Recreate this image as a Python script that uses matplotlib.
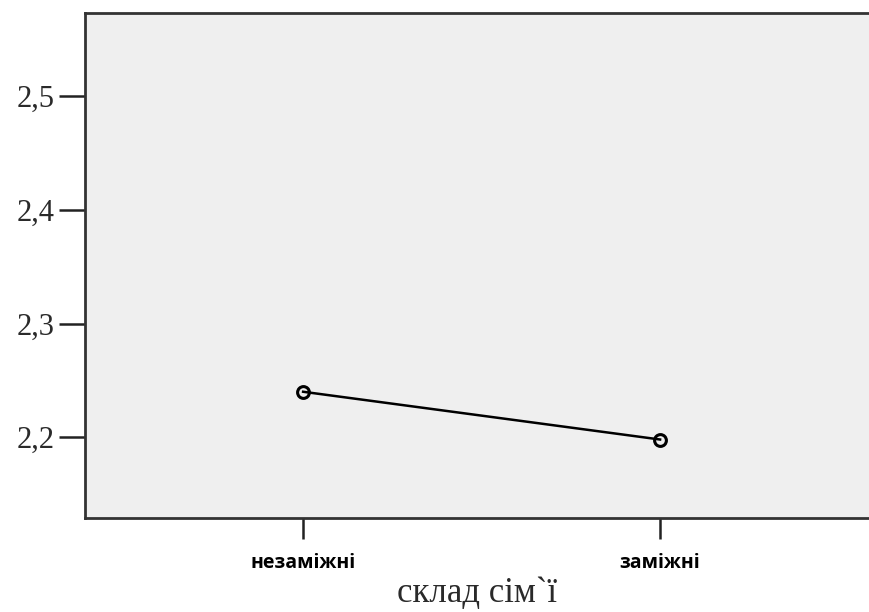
import matplotlib.pyplot as plt

# середні значення за складом сім'ї
categories = ['незаміжні', 'заміжні']
means = [2.240, 2.198]
y_ticks = [2.2, 2.3, 2.4, 2.5]
y_tick_labels = ['2,2', '2,3', '2,4', '2,5']

fig = plt.figure(figsize=(8.7, 6.12), dpi=100)
ax = fig.add_axes([85/870, 1 - 518/612, 1 - 85/870, (518 - 13)/612])
ax.set_facecolor('#efefef')

x = list(range(len(categories)))
ax.plot(x, means, color='black', linewidth=1.8, marker='o', markersize=8.5,
        markerfacecolor='none', markeredgecolor='black', markeredgewidth=2.2)

ax.set_xlim(-0.611, 1.588)
ax.set_ylim(2.129, 2.573)
ax.set_xticks(x)
ax.set_xticklabels(categories, fontfamily='Open Sans', fontweight='bold', fontsize=14)
ax.set_yticks(y_ticks)
ax.set_yticklabels(y_tick_labels, fontfamily='Liberation Serif', fontsize=22, color='#2a2a2a')
ax.tick_params(axis='y', length=19, width=1.8, color='#222222', pad=3)
ax.tick_params(axis='x', length=15, width=1.8, color='#222222', pad=10)

for side in ['left', 'top', 'bottom']:
    ax.spines[side].set_linewidth(2)
    ax.spines[side].set_color('#333333')
ax.spines['right'].set_visible(False)

ax.set_xlabel('склад сім`ї', fontfamily='Liberation Serif', fontsize=25,
              color='#2a2a2a', labelpad=3)

plt.savefig('out.png', dpi=100)
